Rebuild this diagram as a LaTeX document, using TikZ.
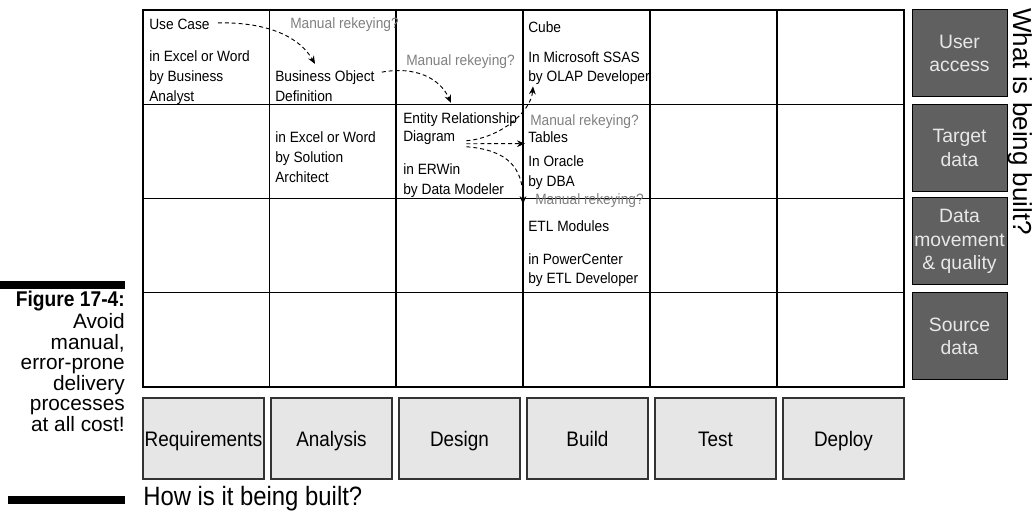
\documentclass[tikz,border=0pt]{standalone}
\usepackage{fontspec}
\setmainfont{Liberation Sans}
\newfontfamily\narrowfont[FakeStretch=0.9]{Liberation Sans}
\newfontfamily\cellfont[FakeStretch=0.92]{Liberation Sans}
\usetikzlibrary{arrows.meta}
\definecolor{rekey}{HTML}{808080}
\definecolor{darkfill}{HTML}{606060}
\definecolor{phasefill}{HTML}{E6E6E6}
\definecolor{boxtext}{HTML}{E8E8E8}
\begin{document}
\begin{tikzpicture}[x=0.75pt,y=-0.75pt,
  cell/.style={font=\cellfont\fontsize{11.2}{12}\selectfont, inner sep=0pt, anchor=base west},
  rekeytxt/.style={cell, text=rekey},
  gridline/.style={line width=0.9pt, black},
  phase/.style={draw=black!80, line width=0.9pt, fill=phasefill, minimum width=90.75pt, minimum height=60.75pt, inner sep=0pt, text height=11.3pt, text depth=0pt, font=\narrowfont\fontsize{15.75}{18}\selectfont},
  layer/.style={draw=black, line width=0.75pt, fill=darkfill, text=boxtext, minimum width=71.25pt, minimum height=65.25pt, inner sep=0pt, align=center, font=\fontsize{14.5}{17.6}\selectfont},
  captxt/.style={inner sep=0pt, anchor=base east, font=\fontsize{15.6}{18}\selectfont},
  flow/.style={dash pattern=on 3pt off 2.2pt, line width=0.7pt, -{Stealth[length=6pt,width=5pt]}},
]
\fill[white] (0,0) rectangle (1036,513);
\useasboundingbox (0,0) rectangle (1036,513);

% grid
\draw[gridline] (143,10) rectangle (904,387);
\foreach \x in {269.5,396,523,650,777} \draw[gridline] (\x,10) -- (\x,387);
\foreach \y in {104.25,198.5,292.75} \draw[gridline] (143,\y) -- (904,\y);

% column 1
\node[cell] (uc) at (149,30) {Use Case};
\node[cell] (c1a) at (149,62) {in Excel or Word};
\node[cell] (c1b) at (149,82) {by Business};
\node[cell] (c1c) at (149,101.5) {Analyst};
% column 2
\node[rekeytxt] (rk1) at (290,29) {Manual rekeying?};
\node[cell] (bo) at (275,82) {Business Object};
\node[cell] (bo2) at (275,101.5) {Definition};
\node[cell] (c2a) at (275,143) {in Excel or Word};
\node[cell] (c2b) at (275,163) {by Solution};
\node[cell] (c2c) at (275,183) {Architect};
% column 3
\node[rekeytxt] (rk2) at (406,66) {Manual rekeying?};
\node[cell] (erd) at (403,124) {Entity Relationship};
\node[cell] (dg) at (403,142) {Diagram};
\node[cell] (c3a) at (403,175) {in ERWin};
\node[cell] (c3b) at (403,195) {by Data Modeler};
% column 4
\node[cell] (cube) at (528,33) {Cube};
\node[cell] (c4a) at (528,63) {In Microsoft SSAS};
\node[cell] (olap) at (528,82) {by OLAP Developer};
\node[rekeytxt] (rk3) at (530,126) {Manual rekeying?};
\node[cell] (tables) at (528,143) {Tables};
\node[cell] (c4b) at (528,167) {In Oracle};
\node[cell] (c4c) at (528,187) {by DBA};
\node[rekeytxt] (rk4) at (535,205) {Manual rekeying?};
\node[cell] (etl) at (528,232) {ETL Modules};
\node[cell] (c4d) at (528,265) {in PowerCenter};
\node[cell] (c4e) at (528,284) {by ETL Developer};

% arrows
\draw[flow] ([shift={(8,-2)}]uc.east) .. controls (270,22) and (300,38) .. ([shift={(40,-7)}]bo.north west);
\draw[flow] ([shift={(7,-6)}]bo.east) .. controls (415,66) and (440,78) .. ([shift={(48,-10)}]erd.north west);
\draw[flow] ([shift={(11,2.6)}]dg.east) .. controls (500,138) and (531,112) .. ([shift={(5,1)}]olap.south west);
\draw[flow] ([shift={(11,5.6)}]dg.east) -- ([shift={(-3,6)}]tables.west);
\draw[flow] ([shift={(11,8.6)}]dg.east) .. controls (508,150) and (523,168) .. ([shift={(-12,3)}]rk4.west);

% phases
\node[phase] (ph1) at (203.5,438.5) {Requirements};
\node[phase] (ph2) at (331.5,438.5) {Analysis};
\node[phase] (ph3) at (459.5,438.5) {Design};
\node[phase] (ph4) at (587.5,438.5) {Build};
\node[phase] (ph5) at (715.5,438.5) {Test};
\node[phase] (ph6) at (843.5,438.5) {Deploy};
\node[inner sep=0pt, anchor=base west, font=\narrowfont\fontsize{19.9}{22}\selectfont] (how) at (143,505) {How is it being built?};

% layers
\node[layer] (ua) at (959.5,53.5) {User\\access};
\node[layer] (td) at (959.5,148) {Target\\data};
\node[layer] (dm) at (959.5,241.5) {Data\\movement\\\& quality};
\node[layer] (sd) at (959.5,336.5) {Source\\data};
\node[inner sep=0pt, anchor=base west, rotate=-90, font=\fontsize{19.5}{22}\selectfont] (what) at (1013,8) {What is being built?};

% caption
\fill[black] (0,281) rectangle (125,289);
\fill[black] (8,496) rectangle (125,504);
\node[captxt, font=\narrowfont\bfseries\fontsize{16}{18}\selectfont] (cap1) at (125,307) {Figure 17-4:};
\node[captxt] (cap2) at (125,329) {Avoid};
\node[captxt] (cap3) at (125,349.5) {manual,};
\node[captxt] (cap4) at (125,370) {error-prone};
\node[captxt] (cap5) at (125,390.5) {delivery};
\node[captxt] (cap6) at (125,411) {processes};
\node[captxt] (cap7) at (125,431.5) {at all cost!};
\end{tikzpicture}
\end{document}
